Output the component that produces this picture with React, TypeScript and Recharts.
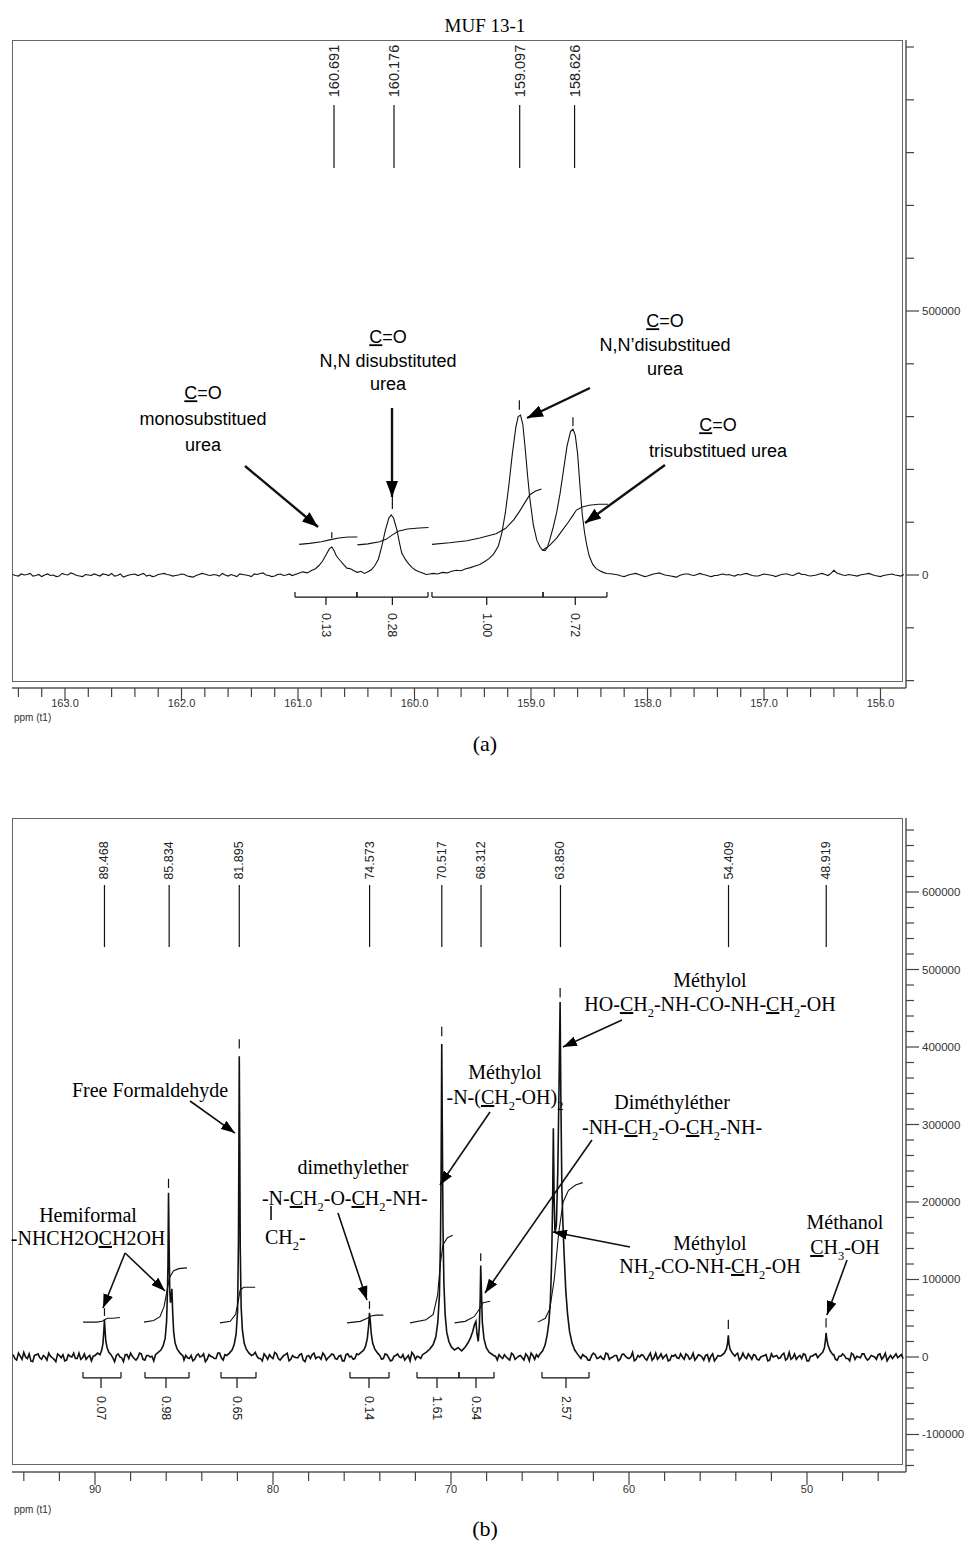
import React from 'react';
import { LineChart, Line, XAxis, YAxis, ReferenceLine, ReferenceDot } from 'recharts';

type Pt = [number, number];
type Seg = string | { u: string } | { s: string };

// ---------- (a) carbonyl region, intensities in thousands ----------
const gridStepA = 0.05;
const baseA1Start = 163.45; // 163.45 -> 161.05
const baseA1 = [1, -2, 0, 3, -1, -3, 2, 0, -2, 1, 4, -1, -3, 0, 2, -2, 1, 3, -1, -4, 0, 2, 1, -2, -3, 1, 3, 0, -1, 2, -2, -4, 1, 2, -1, 0, 3, -2, -1, 2, 0, -3, 1, 4, -1, -2, 2, 0, -1];
const baseA1MidStart = 163.425; // 163.425 -> 161.075
const baseA1Mid = [-1, 2, 1, -2, 1, 0, -1, -3, 3, 0, 2, -2, 1, -1, 0, 2, -1, -2, 2, -2, 1, -1, 3, 0, -2, 2, 1, -2, 0, 1, -3, -1, 3, 0, 1, -2, 0, 1, -3, 1, -1, 2, 3, 0, -3, 1, -1, 2];
const baseA2Start = 158.3; // 158.30 -> 155.80
const baseA2 = [2, 0, -3, 1, 3, -1, -2, 2, 4, 0, -2, -4, 1, 2, -1, 3, 0, -3, -1, 2, 1, -2, 0, 3, -1, -2, 2, 0, -3, 1, 2, -1, 4, 1, -2, 0, 3, -1, 9, 2, -1, 0, -2, 1, 3, -1, -3, 0, 2, -1, 1];
const baseA2MidStart = 158.275; // 158.275 -> 155.825
const baseA2Mid = [1, -2, -1, 2, 1, -3, 0, 3, 2, -1, -3, -1, 2, 0, 1, 1, -2, -1, 1, 0, -1, 1, 2, 1, -2, 0, 1, -1, -1, 2, 0, 2, 1, -1, -1, 2, 1, 3, 4, 0, 1, -1, 0, 2, 1, -2, -1, 1, 0, -2];

const peakA160691: Pt[] = [[161.0, 3], [160.96, 6], [160.92, 4], [160.88, 9], [160.85, 12], [160.82, 18], [160.79, 26], [160.76, 38], [160.73, 50], [160.71, 53], [160.69, 46], [160.67, 36], [160.64, 28], [160.61, 20], [160.58, 13], [160.55, 12], [160.52, 8], [160.49, 5], [160.46, 7]];
const peakA160176: Pt[] = [[160.43, 3], [160.4, 6], [160.37, 10], [160.34, 18], [160.31, 30], [160.28, 55], [160.25, 85], [160.22, 108], [160.2, 114], [160.18, 108], [160.15, 85], [160.13, 62], [160.11, 42], [160.08, 30], [160.05, 21], [160.02, 14], [159.99, 9], [159.96, 6], [159.93, 4], [159.9, 1], [159.87, 2]];
const peakA159: Pt[] = [[159.84, 3], [159.8, 2], [159.76, 5], [159.72, 4], [159.68, 7], [159.64, 9], [159.6, 8], [159.56, 12], [159.52, 14], [159.48, 17], [159.44, 20], [159.4, 25], [159.36, 31], [159.32, 40], [159.28, 55], [159.25, 80], [159.22, 118], [159.19, 170], [159.16, 230], [159.13, 280], [159.11, 300], [159.09, 303], [159.07, 285], [159.05, 240], [159.03, 190], [159.01, 145], [158.98, 95], [158.95, 66], [158.92, 52], [158.9, 47], [158.88, 46], [158.86, 52], [158.84, 66], [158.81, 90], [158.78, 118], [158.75, 155], [158.72, 200], [158.69, 245], [158.66, 272], [158.64, 276], [158.62, 265], [158.6, 230], [158.58, 170], [158.56, 115], [158.54, 80], [158.52, 55], [158.5, 36], [158.47, 20], [158.44, 12], [158.41, 8], [158.38, 5], [158.35, 3]];

const integralA1: Pt[] = [[160.99, 58], [160.9, 60], [160.8, 63], [160.72, 67], [160.65, 70], [160.57, 72], [160.49, 72]];
const integralA2: Pt[] = [[160.49, 57], [160.4, 59], [160.3, 63], [160.24, 68], [160.19, 76], [160.14, 83], [160.06, 87], [159.96, 89], [159.88, 90]];
const integralA3: Pt[] = [[159.85, 58], [159.7, 61], [159.55, 65], [159.44, 70], [159.3, 78], [159.22, 88], [159.15, 104], [159.1, 120], [159.05, 138], [159.01, 152], [158.96, 159], [158.91, 163]];
const integralA4: Pt[] = [[158.9, 47], [158.84, 56], [158.78, 70], [158.73, 85], [158.68, 100], [158.64, 113], [158.61, 123], [158.56, 129], [158.5, 132], [158.42, 134], [158.34, 134]];

const shiftLabelsA = ['160.691', '160.176', '159.097', '158.626'];
const peakTicksA: [number, number, number][] = [[160.71, 70, 81], [160.19, 125, 148], [159.1, 313, 331], [158.64, 282, 299]];
const bracketsA: Pt[] = [[161.026, 160.494], [160.494, 159.884], [159.85, 158.897], [158.897, 158.348]];
const integralMarksA = [160.76, 160.19, 159.38, 158.62];
const integralValuesA = ['0.13', '0.28', '1.00', '0.72'];

// ---------- (b) 95 - 45 ppm region, intensities in thousands ----------
const gridStepB = 0.2;
const baseBStart = 94.6; // 94.6 -> 44.6
const baseB = [
  3, -4, 1, 6, -2, -5, 2, 4, -3, 0, 5, -1, -6, 2, 3, -4, 1, 5, -2, -3,
  4, 0, -5, 3, 1, -3, 6, -1, -4, 2, 0, -6, 3, 5, -2, -1, 4, -4, 2, 1,
  -3, 5, 0, -5, 3, 2, -2, 6, -4, -1, 2, -3, 4, 1, -6, 3, 0, -2, 5, -4,
  1, 3, -5, 2, -1, 4, -3, 0, 6, -2, -5, 1, 3, -2, 4, -4, 2, 5, -3, 0,
  -1, 4, -6, 2, 3, -2, 0, 5, -4, 1, 3, -3, 2, -5, 4, 1, -2, 6, -1, -4,
  2, 0, -3, 5, -2, 3, -5, 1, 4, -1, -4, 2, 6, -3, 0, 3, -5, 2, 1, -2,
  4, -1, -3, 5, -4, 0, 2, -2, 6, -3, 1, -5, 3, 2, -1, 4, -4, 0, 3, -2,
  5, -3, 1, -1, 4, -5, 2, 3, -2, 0, -4, 6, -1, 2, -3, 1, 4, -5, 2, -1,
  3, 0, -4, 5, -2, 1, -3, 4, -1, 2, -5, 3, 1, -2, 6, -3, 0, 2, -4, 5,
  -1, -3, 4, 1, -5, 2, 3, -2, 0, 4, -3, 5, -1, 2, -4, 3, 1, -5, 2, 0,
  4, -2, -1, 3, -4, 5, -2, 1, 3, -3, 0, 2, -5, 4, 1, -2, 3, -4, 6, -1,
  -3, 2, 4, -5, 1, 3, -1, -4, 5, 0, 2, -3, 1, 4, -2, -5, 3, 1, -1, 4,
  -4, 2, 0, 3, -3, 5, -1, -2, 4, 1, -2,
];
const baseBMidStart = 94.5; // 94.5 -> 44.7
const baseBMid = [
  -2, 5, -3, 0, 4, -6, 3, -1, 2, -4, 1, -3, 4, -1, -5, 3, 0, -2, 5, -1,
  -3, 2, 1, -4, 5, -2, 0, 3, -6, 4, -1, 3, -2, 1, -4, 5, -3, 2, 0, -5,
  4, -2, 3, -1, -3, 6, -4, 1, 2, -2, -5, 2, 0, 4, -3, 1, -2, 5, -1, 3,
  -4, 0, 2, -3, 5, -1, -5, 3, 1, -2, 4, -3, 0, 6, -2, -1, 3, -5, 2, -1,
  3, -4, 1, -2, 5, 0, -3, 2, -1, 4, -2, 1, -5, 3, 0, -3, 4, -1, 2, -4,
  5, -2, 1, -3, 4, -1, -4, 2, 0, 3, -1, -5, 3, 1, -2, 4, -3, 0, 5, -2,
  2, -3, 4, -1, 0, -4, 3, 1, -2, 5, -3, 2, -1, 4, -5, 1, 3, -2, 0, -4,
  3, -1, 2, -4, 1, 5, -3, 0, -2, 4, -2, 3, -5, 1, 4, -1, 0, -3, 5, -2,
  1, -4, 2, 3, -1, -2, 5, -3, 0, 2, -3, 4, -1, 0, -5, 2, 3, -2, 1, -4,
  5, 0, -2, 3, -4, 1, -1, 4, -3, 2, -1, -4, 3, 0, 2, -5, 4, -2, 1, 3,
  -3, 1, -2, 5, -1, 0, 4, -3, 2, -4, 1, 3, -4, 0, 2, -1, 5, -2, -3, 4,
  0, -2, 3, -5, 1, 4, -1, 2, -3, 0, 3, -4, 1, 2, -2, 5, -3, 0, 4, -1,
  -2, 1, -3, 4, 0, -5, 2, 1, -1, 3,
];

const peakB89: Pt[] = [[90.0, 2], [89.85, 5], [89.72, 3], [89.62, 9], [89.55, 18], [89.5, 35], [89.47, 48], [89.44, 36], [89.39, 20], [89.32, 12], [89.22, 6], [89.1, 3], [89.0, -1]];
const peakB85: Pt[] = [[86.6, 3], [86.45, 6], [86.3, 9], [86.18, 14], [86.06, 24], [85.98, 45], [85.93, 85], [85.9, 120], [85.87, 212], [85.84, 150], [85.8, 85], [85.76, 70], [85.72, 78], [85.68, 88], [85.64, 60], [85.58, 32], [85.5, 18], [85.38, 10], [85.22, 5], [85.05, 1]];
const peakB81: Pt[] = [[82.6, 2], [82.45, 5], [82.3, 9], [82.18, 16], [82.07, 30], [81.99, 60], [81.94, 150], [81.91, 300], [81.895, 388], [81.87, 280], [81.84, 140], [81.79, 65], [81.72, 35], [81.62, 18], [81.5, 10], [81.35, 5], [81.2, 2]];
const peakB74: Pt[] = [[75.2, 3], [75.05, 6], [74.9, 9], [74.8, 14], [74.7, 24], [74.63, 40], [74.58, 57], [74.54, 48], [74.48, 30], [74.4, 18], [74.28, 10], [74.12, 5], [74.0, 2]];
const peakB70: Pt[] = [[71.6, 3], [71.4, 6], [71.2, 10], [71.0, 16], [70.85, 26], [70.74, 45], [70.65, 80], [70.59, 150], [70.55, 260], [70.52, 404], [70.49, 300], [70.45, 170], [70.4, 95], [70.33, 55], [70.24, 32], [70.12, 20], [69.98, 13], [69.8, 9], [69.6, 12], [69.4, 8], [69.2, 13], [69.05, 18], [68.9, 25], [68.78, 33], [68.68, 42], [68.6, 46], [68.54, 30], [68.47, 20], [68.41, 38], [68.36, 75], [68.33, 118], [68.29, 85], [68.24, 45], [68.15, 24], [68.02, 12], [67.85, 6], [67.6, 2]];
const peakB63: Pt[] = [[65.0, 4], [64.85, 8], [64.72, 15], [64.6, 28], [64.5, 45], [64.42, 70], [64.35, 120], [64.29, 200], [64.25, 295], [64.21, 210], [64.16, 160], [64.08, 170], [64.0, 240], [63.93, 350], [63.87, 458], [63.83, 340], [63.77, 215], [63.71, 170], [63.64, 130], [63.55, 85], [63.45, 55], [63.34, 33], [63.2, 18], [63.05, 9], [62.9, 4], [62.8, 1]];
const peakB54: Pt[] = [[54.8, 2], [54.65, 5], [54.53, 10], [54.46, 18], [54.42, 28], [54.38, 17], [54.32, 10], [54.2, 5], [54.05, 1]];
const peakB48: Pt[] = [[49.3, 2], [49.12, 6], [49.02, 12], [48.96, 22], [48.93, 31], [48.89, 24], [48.82, 15], [48.7, 8], [48.55, 3]];

const integralB1: Pt[] = [[90.67, 45], [89.9, 45], [89.6, 46], [89.47, 48], [89.3, 50], [89.0, 50], [88.6, 51]];
const integralB2: Pt[] = [[87.25, 45], [86.7, 47], [86.35, 52], [86.12, 65], [85.96, 85], [85.82, 102], [85.6, 111], [85.3, 114], [84.83, 115]];
const integralB3: Pt[] = [[82.98, 44], [82.4, 46], [82.1, 55], [81.95, 72], [81.85, 86], [81.65, 90], [81.0, 90]];
const integralB4: Pt[] = [[75.84, 44], [75.1, 46], [74.7, 50], [74.5, 53], [74.2, 54], [73.8, 54]];
const integralB5: Pt[] = [[72.3, 44], [71.4, 48], [71.0, 55], [70.75, 80], [70.6, 120], [70.45, 145], [70.2, 154], [69.9, 157]];
const integralB6: Pt[] = [[69.8, 44], [69.2, 46], [68.7, 52], [68.4, 62], [68.2, 70], [67.8, 72]];
const integralB7: Pt[] = [[65.12, 45], [64.7, 50], [64.45, 62], [64.2, 100], [63.95, 160], [63.7, 200], [63.4, 215], [63.0, 222], [62.6, 225]];

const shiftLabelsB = ['89.468', '85.834', '81.895', '74.573', '70.517', '68.312', '63.850', '54.409', '48.919'];
const peakTicksB: [number, number, number][] = [[89.468, 53, 63], [85.87, 218, 230], [81.895, 398, 410], [74.58, 62, 72], [70.52, 414, 426], [68.33, 124, 134], [63.87, 464, 476], [54.42, 36, 48], [48.93, 38, 50]];
const bracketsB: Pt[] = [[90.674, 88.539], [87.191, 84.719], [82.921, 80.955], [75.674, 73.483], [71.91, 69.551], [69.551, 67.584], [64.888, 62.247]];
const integralMarksB = [89.663, 86.011, 82.022, 74.607, 70.787, 68.596, 63.539];
const integralValuesB = ['0.07', '0.98', '0.65', '0.14', '1.61', '0.54', '2.57'];

// ---------- helpers ----------
const sans = "'Liberation Sans', Arial, Helvetica, sans-serif";
const serif = "'Liberation Serif', 'Times New Roman', Times, serif";

const range = (a: number, b: number, step: number) => {
  const out: number[] = [];
  for (let v = a; v <= b + step / 1000; v += step) out.push(+v.toFixed(2));
  return out;
};
const grid = (start: number, step: number, vals: number[]): Pt[] =>
  vals.map((v, i) => [+(start - i * step).toFixed(3), v]);
const rows = (pts: Pt[]) => pts.map(([p, k]) => ({ p, v: k * 1000 }));
const buildTrace = (base: Pt[], peaks: Pt[][]) => {
  const wins = peaks.map((pk) => [Math.min(...pk.map((q) => q[0])), Math.max(...pk.map((q) => q[0]))]);
  const kept = base.filter(([p]) => !wins.some(([a, b]) => p >= a && p <= b));
  return rows([...kept, ...peaks.flat()].sort((a, b) => b[0] - a[0]));
};

const traceA = buildTrace(
  [
    ...grid(baseA1Start, gridStepA, baseA1),
    ...grid(baseA1MidStart, gridStepA, baseA1Mid),
    ...grid(baseA2Start, gridStepA, baseA2),
    ...grid(baseA2MidStart, gridStepA, baseA2Mid),
  ],
  [peakA160691, peakA160176, peakA159],
);
const traceB = buildTrace(
  [...grid(baseBStart, gridStepB, baseB), ...grid(baseBMidStart, gridStepB, baseBMid)],
  [peakB89, peakB85, peakB81, peakB74, peakB70, peakB63, peakB54, peakB48],
);

const rich = (segs: Seg[], fs: number) => {
  const out: React.ReactNode[] = [];
  let low = false;
  const off = fs * 0.28;
  segs.forEach((s, i) => {
    if (typeof s === 'string') {
      out.push(<tspan key={i} dy={low ? -off : undefined}>{s}</tspan>);
      low = false;
    } else if ('u' in s) {
      out.push(<tspan key={i} dy={low ? -off : undefined} textDecoration="underline">{s.u}</tspan>);
      low = false;
    } else {
      out.push(<tspan key={i} dy={low ? undefined : off} fontSize={fs * 0.62}>{s.s}</tspan>);
      low = true;
    }
  });
  return out;
};

const note = (key: string, x: number, y: number, lines: Seg[][], fs: number, lh: number, family: string, anchor = 'middle') => (
  <ReferenceDot
    key={key}
    x={x}
    y={y}
    r={0}
    ifOverflow="visible"
    shape={(p: any) => (
      <text textAnchor={anchor} fontFamily={family} fontSize={fs} fill="#000">
        {lines.map((l, i) => (
          <tspan key={i} x={p.cx} y={p.cy + i * lh + fs * 0.35}>{rich(l, fs)}</tspan>
        ))}
      </text>
    )}
  />
);

const seg = (key: string, x1: number, y1: number, x2: number, y2: number, w = 1, marker?: string) => (
  <ReferenceLine
    key={key}
    segment={[{ x: x1, y: y1 }, { x: x2, y: y2 }]}
    ifOverflow="visible"
    shape={(p: any) => (
      <line x1={p.x1} y1={p.y1} x2={p.x2} y2={p.y2} stroke="#111" strokeWidth={w} markerEnd={marker ? `url(#${marker})` : undefined} />
    )}
  />
);

const rotLabel = (key: string, x: number, y: number, text: string, angle: number, anchor: string, fs = 12.5) => (
  <ReferenceDot
    key={key}
    x={x}
    y={y}
    r={0}
    ifOverflow="visible"
    shape={(p: any) => (
      <text x={p.cx} y={p.cy} transform={`rotate(${angle} ${p.cx} ${p.cy})`} textAnchor={anchor} dominantBaseline="central" fontFamily={sans} fontSize={fs} fill="#222">
        {text}
      </text>
    )}
  />
);

const xTickA = (props: any) => {
  const { x, y, payload } = props;
  const v = payload.value;
  const major = Math.abs(v - Math.round(v)) < 1e-6;
  return (
    <g>
      <line x1={x} y1={y} x2={x} y2={y + (major ? 13 : 9)} stroke="#444" strokeWidth={1.2} />
      {major && <text x={x} y={y + 19} textAnchor="middle" fontFamily={sans} fontSize={11} fill="#333">{v.toFixed(1)}</text>}
    </g>
  );
};
const xTickB = (props: any) => {
  const { x, y, payload } = props;
  const v = payload.value;
  const major = v % 10 === 0;
  return (
    <g>
      <line x1={x} y1={y} x2={x} y2={y + (major ? 13 : 9)} stroke="#444" strokeWidth={1.2} />
      {major && <text x={x} y={y + 21} textAnchor="middle" fontFamily={sans} fontSize={11} fill="#333">{v}</text>}
    </g>
  );
};
const yTick = (labelled: (v: number) => boolean) => (props: any) => {
  const { x, y, payload } = props;
  const lab = labelled(payload.value);
  return (
    <g>
      <line x1={x} y1={y} x2={x + (lab ? 13 : 8)} y2={y} stroke="#444" strokeWidth={1.2} />
      {lab && <text x={x + 16} y={y + 4} fontFamily={sans} fontSize={11.5} fill="#333">{payload.value}</text>}
    </g>
  );
};

const axisLine = { stroke: '#555', strokeWidth: 1.5 };

export default function App() {
  const xTicksA = range(156.0, 163.4, 0.2);
  const xTicksB = range(46, 94, 2);
  const yTicksA = range(-200000, 1000000, 100000);
  const yTicksB = range(-140000, 680000, 20000);
  const sub2 = { s: '2' };
  const C = { u: 'C' };

  return (
    <div style={{ position: 'absolute', left: 0, top: 0, width: 970, height: 1544, background: '#fff' }}>
      <svg width={0} height={0} style={{ position: 'absolute' }}>
        <defs>
          <marker id="headA" markerUnits="userSpaceOnUse" viewBox="0 0 16 12" refX="16" refY="6" markerWidth="16" markerHeight="12" orient="auto">
            <path d="M0,0 L16,6 L0,12 z" fill="#000" />
          </marker>
          <marker id="headB" markerUnits="userSpaceOnUse" viewBox="0 0 14 10" refX="14" refY="5" markerWidth="14" markerHeight="10" orient="auto">
            <path d="M0,0 L14,5 L0,10 z" fill="#000" />
          </marker>
        </defs>
      </svg>

      {/* ---------- (a) ---------- */}
      <div style={{ position: 'absolute', left: 0, top: 15, width: 970, textAlign: 'center', fontFamily: serif, fontSize: 19 }}>MUF 13-1</div>
      <div style={{ position: 'absolute', left: 12, top: 40, width: 891, height: 642, border: '1.5px solid #666', boxSizing: 'border-box' }} />
      <div style={{ position: 'absolute', left: 0, top: 0 }}>
        <LineChart width={970} height={760} margin={{ top: 40, right: 14, bottom: 32, left: 12 }}>
          <XAxis type="number" dataKey="p" domain={[155.781, 163.455]} reversed allowDataOverflow ticks={xTicksA} interval={0} tickSize={0} tickMargin={0} tickLine={false} axisLine={axisLine} height={40} tick={xTickA} />
          <YAxis type="number" orientation="right" domain={[-214000, 1013300]} allowDataOverflow ticks={yTicksA} interval={0} tickSize={0} tickMargin={0} tickLine={false} axisLine={axisLine} width={50} tick={yTick((v) => v === 0 || v === 500000)} />
          <Line data={traceA} dataKey="v" stroke="#111" strokeWidth={1.1} dot={false} isAnimationActive={false} />
          {[integralA1, integralA2, integralA3, integralA4].map((d, i) => (
            <Line key={`ia${i}`} data={rows(d)} dataKey="v" stroke="#111" strokeWidth={1.1} dot={false} isAnimationActive={false} />
          ))}
          {shiftLabelsA.map((s) => seg(`la${s}`, +s, 771000, +s, 890000, 1.2))}
          {shiftLabelsA.map((s) => rotLabel(`ta${s}`, +s, 905000, s, -90, 'start', 14.5))}
          {peakTicksA.map(([p, a, b]) => seg(`pa${p}`, p, a * 1000, p, b * 1000, 1.2))}
          {bracketsA.map(([a, b], i) => seg(`ba${i}`, a, -41700, b, -41700, 1.2))}
          {bracketsA.flat().map((p, i) => seg(`be${i}`, p, -41700, p, -32000, 1.2))}
          {integralMarksA.map((p, i) => seg(`bm${i}`, p, -41700, p, -57000, 1.2))}
          {integralMarksA.map((p, i) => rotLabel(`bv${i}`, p, -95000, integralValuesA[i], 90, 'middle'))}

          {note('na1', 161.815, 344700, [[C, '=O'], ['monosubstitued'], ['urea']], 18, 26, sans)}
          {note('na2', 160.227, 450800, [[C, '=O'], ['N,N disubstituted'], ['urea']], 18, 23.5, sans)}
          {note('na3', 157.85, 481100, [[C, '=O'], ['N,N\u2019disubstitued'], ['urea']], 18, 24, sans)}
          {note('na4', 157.395, 284100, [[C, '=O'], ['trisubstitued urea']], 18, 26, sans)}
          {seg('aa1', 161.455, 206400, 160.828, 90900, 2.4, 'headA')}
          {seg('aa2', 160.193, 316300, 160.193, 147700, 2.4, 'headA')}
          {seg('aa3', 158.494, 354200, 159.034, 297400, 2.4, 'headA')}
          {seg('aa4', 157.85, 208300, 158.536, 98500, 2.4, 'headA')}
        </LineChart>
      </div>
      <div style={{ position: 'absolute', left: 14, top: 712, fontFamily: sans, fontSize: 10, color: '#333' }}>ppm (t1)</div>
      <div style={{ position: 'absolute', left: 0, top: 731, width: 970, textAlign: 'center', fontFamily: serif, fontSize: 22 }}>(a)</div>

      {/* ---------- (b) ---------- */}
      <div style={{ position: 'absolute', left: 12, top: 818, width: 891, height: 647, border: '1.5px solid #666', boxSizing: 'border-box' }} />
      <div style={{ position: 'absolute', left: 0, top: 770 }}>
        <LineChart width={970} height={774} margin={{ top: 48, right: 14, bottom: 32, left: 12 }}>
          <XAxis type="number" dataKey="p" domain={[44.438, 94.663]} reversed allowDataOverflow ticks={xTicksB} interval={0} tickSize={0} tickMargin={0} tickLine={false} axisLine={axisLine} height={40} tick={xTickB} />
          <YAxis type="number" orientation="right" domain={[-148400, 695500]} allowDataOverflow ticks={yTicksB} interval={0} tickSize={0} tickMargin={0} tickLine={false} axisLine={axisLine} width={50} tick={yTick((v) => v % 100000 === 0)} />
          <Line data={traceB} dataKey="v" stroke="#111" strokeWidth={1.6} dot={false} isAnimationActive={false} />
          {[integralB1, integralB2, integralB3, integralB4, integralB5, integralB6, integralB7].map((d, i) => (
            <Line key={`ib${i}`} data={rows(d)} dataKey="v" stroke="#111" strokeWidth={1.1} dot={false} isAnimationActive={false} />
          ))}
          {shiftLabelsB.map((s) => seg(`lb${s}`, +s, 529000, +s, 609000, 1.2))}
          {shiftLabelsB.map((s) => rotLabel(`tb${s}`, +s, 616000, s, -90, 'start'))}
          {peakTicksB.map(([p, a, b]) => seg(`pb${p}`, p, a * 1000, p, b * 1000, 1.2))}
          {bracketsB.map(([a, b], i) => seg(`bb${i}`, a, -27000, b, -27000, 1.2))}
          {bracketsB.flat().map((p, i) => seg(`bf${i}`, p, -27000, p, -19500, 1.2))}
          {integralMarksB.map((p, i) => seg(`bn${i}`, p, -27000, p, -40000, 1.2))}
          {integralMarksB.map((p, i) => rotLabel(`bw${i}`, p, -66000, integralValuesB[i], 90, 'middle'))}

          {note('nb1', 55.45, 486400, [['Méthylol'], ['HO-', C, 'H', sub2, '-NH-CO-NH-', C, 'H', sub2, '-OH']], 20, 24, serif)}
          {note('nb2', 86.91, 344500, [['Free Formaldehyde']], 20, 25, serif)}
          {note('nb3', 66.97, 367700, [['Méthylol'], ['-N-(', C, 'H', sub2, '-OH)', sub2]], 20, 25, serif)}
          {note('nb4', 57.58, 329000, [['Diméthyléther'], ['-NH-', C, 'H', sub2, '-O-', C, 'H', sub2, '-NH-']], 20, 25, serif)}
          {note('nb5', 75.51, 245200, [['dimethylether']], 20, 25, serif)}
          {note('nb5b', 80.62, 205200, [['-N-', C, 'H', sub2, '-O-', C, 'H', sub2, '-NH-']], 20, 25, serif, 'start')}
          {seg('bar5', 80.11, 194800, 80.11, 176800, 1.6)}
          {note('nb5c', 80.45, 154800, [['CH', sub2, '-']], 20, 25, serif, 'start')}
          {note('nb6', 90.39, 183200, [['Hemiformal'], ['-NHCH2O', C, 'H2OH']], 20, 23, serif)}
          {note('nb7', 55.45, 147100, [['Méthylol'], ['NH', sub2, '-CO-NH-', C, 'H', sub2, '-OH']], 20, 23, serif)}
          {note('nb8', 47.87, 174200, [['Méthanol'], [C, 'H', { s: '3' }, '-OH']], 20, 25, serif)}

          {seg('ab1', 60.39, 434800, 63.71, 400000, 1.6, 'headB')}
          {seg('ab2', 84.66, 330300, 82.135, 289000, 1.6, 'headB')}
          {seg('ab3', 67.81, 316100, 70.62, 221900, 1.6, 'headB')}
          {seg('ab4', 62.08, 280000, 68.09, 82600, 1.6, 'headB')}
          {seg('ab5', 76.35, 185800, 74.72, 73500, 1.6, 'headB')}
          {seg('ab6', 88.31, 134200, 89.55, 63200, 1.6, 'headB')}
          {seg('ab7', 88.31, 134200, 86.07, 85200, 1.6, 'headB')}
          {seg('ab8', 59.94, 141900, 64.27, 161300, 1.6, 'headB')}
          {seg('ab9', 47.75, 125200, 48.88, 54200, 1.6, 'headB')}
        </LineChart>
      </div>
      <div style={{ position: 'absolute', left: 14, top: 1504, fontFamily: sans, fontSize: 10, color: '#333' }}>ppm (t1)</div>
      <div style={{ position: 'absolute', left: 0, top: 1516, width: 970, textAlign: 'center', fontFamily: serif, fontSize: 22 }}>(b)</div>
    </div>
  );
}
